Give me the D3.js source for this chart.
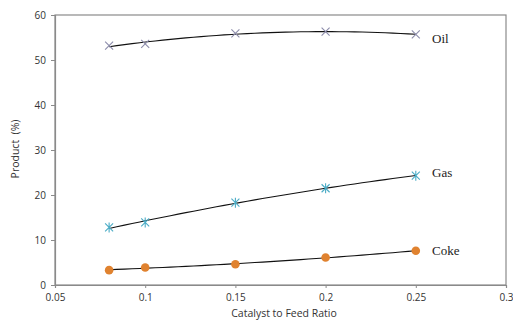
<!DOCTYPE html>
<html>
<head>
<meta charset="utf-8">
<script src="https://cdn.jsdelivr.net/npm/d3@7"></script>
<style>
  body { margin: 0; background: #fff; }
  svg { display: block; }
</style>
</head>
<body>
<div id="chart"></div>
<script>
const ratios = [0.08, 0.1, 0.15, 0.2, 0.25];
const oil = [53.2, 53.6, 55.9, 56.3, 55.7];
const gas = [12.8, 13.9, 18.3, 21.5, 24.3];
const coke = [3.3, 3.9, 4.6, 6.1, 7.6];
const xTicks = [0.05, 0.1, 0.15, 0.2, 0.25, 0.3];
const yTicks = [0, 10, 20, 30, 40, 50, 60];

const W = 513, H = 320;
const margin = { top: 15, right: 7, bottom: 35, left: 55 };
const width = W - margin.left - margin.right;
const height = H - margin.top - margin.bottom;

const svg = d3.select("#chart").append("svg")
  .attr("width", W)
  .attr("height", H);

const chart = svg.append("g")
  .attr("transform", `translate(${margin.left},${margin.top})`);

const x = d3.scaleLinear().domain([0.05, 0.3]).range([0, width]);
const y = d3.scaleLinear().domain([0, 60]).range([height, 0]);

// plot frame
chart.append("rect")
  .attr("width", width)
  .attr("height", height)
  .attr("fill", "none")
  .attr("stroke", "#8a8a8a")
  .attr("stroke-width", 1.2);

const xAxis = chart.append("g")
  .attr("transform", `translate(0,${height})`)
  .call(d3.axisBottom(x).tickValues(xTicks).tickSize(3).tickPadding(6)
    .tickFormat(d => d3.format("")(+d.toFixed(2))));

const yAxis = chart.append("g")
  .call(d3.axisLeft(y).tickValues(yTicks).tickSize(4).tickPadding(5));

[xAxis, yAxis].forEach(a => {
  a.select(".domain").attr("stroke", "#8a8a8a").attr("stroke-width", 1.2);
  a.selectAll(".tick line").attr("stroke", "#8a8a8a");
  a.selectAll("text")
    .attr("fill", "#333")
    .style("font-family", "'Open Sans', sans-serif")
    .style("font-size", "10px");
});

svg.append("text")
  .attr("x", 284)
  .attr("y", 317)
  .attr("text-anchor", "middle")
  .attr("fill", "#333")
  .style("font-family", "'Open Sans', sans-serif")
  .style("font-size", "10.5px")
  .text("Catalyst to Feed Ratio");

svg.append("text")
  .attr("transform", "rotate(-90)")
  .attr("x", -149)
  .attr("y", 19)
  .attr("text-anchor", "middle")
  .attr("fill", "#333")
  .style("font-family", "'Open Sans', sans-serif")
  .style("font-size", "10.5px")
  .style("white-space", "pre")
  .text("Product  (%)");

// quadratic least-squares trend line, like the spreadsheet trendline
function quadFit(xs, ys) {
  let s = [0, 0, 0, 0, 0], t = [0, 0, 0];
  xs.forEach((xv, i) => {
    for (let k = 0; k < 5; k++) s[k] += Math.pow(xv, k);
    for (let k = 0; k < 3; k++) t[k] += Math.pow(xv, k) * ys[i];
  });
  const A = [[s[0], s[1], s[2], t[0]], [s[1], s[2], s[3], t[1]], [s[2], s[3], s[4], t[2]]];
  for (let i = 0; i < 3; i++) {
    for (let j = i + 1; j < 3; j++) {
      const f = A[j][i] / A[i][i];
      for (let k = i; k < 4; k++) A[j][k] -= f * A[i][k];
    }
  }
  const c = [0, 0, 0];
  for (let i = 2; i >= 0; i--) {
    let v = A[i][3];
    for (let k = i + 1; k < 3; k++) v -= A[i][k] * c[k];
    c[i] = v / A[i][i];
  }
  return xv => c[0] + c[1] * xv + c[2] * xv * xv;
}

const series = [
  { name: "Oil", values: oil, color: "#8c8cab", marker: "x", labelY: 38 },
  { name: "Gas", values: gas, color: "#4bacc6", marker: "star", labelY: 172 },
  { name: "Coke", values: coke, color: "#e0822f", marker: "circle", labelY: 250 }
];

const line = d3.line().x(d => x(d[0])).y(d => y(d[1]));

series.forEach(s => {
  const f = quadFit(ratios, s.values);
  const x0 = ratios[0], x1 = ratios[ratios.length - 1];
  const pts = d3.range(0, 41).map(i => {
    const xv = x0 + (x1 - x0) * i / 40;
    return [xv, f(xv)];
  });

  chart.append("path")
    .datum(pts)
    .attr("fill", "none")
    .attr("stroke", "#111")
    .attr("stroke-width", 1.1)
    .attr("d", line);

  const g = chart.selectAll(null)
    .data(ratios.map((r, i) => [r, s.values[i]]))
    .enter().append("g")
    .attr("transform", d => `translate(${x(d[0])},${y(d[1])})`);

  if (s.marker === "circle") {
    g.append("circle").attr("r", 4.3).attr("fill", s.color);
  } else {
    const r = 4;
    const p = "M" + -r + "," + -r + "L" + r + "," + r + "M" + -r + "," + r + "L" + r + "," + -r +
      (s.marker === "star" ? "M0," + (-r - 1) + "L0," + (r + 1) : "");
    g.append("path").attr("d", p).attr("stroke", s.color).attr("stroke-width", 1.1).attr("fill", "none");
  }

  svg.append("text")
    .attr("x", 432)
    .attr("y", s.labelY)
    .attr("dy", "0.35em")
    .attr("fill", "#222")
    .style("font-family", "'Liberation Serif', serif")
    .style("font-size", "13px")
    .text(s.name);
});
</script>
</body>
</html>
